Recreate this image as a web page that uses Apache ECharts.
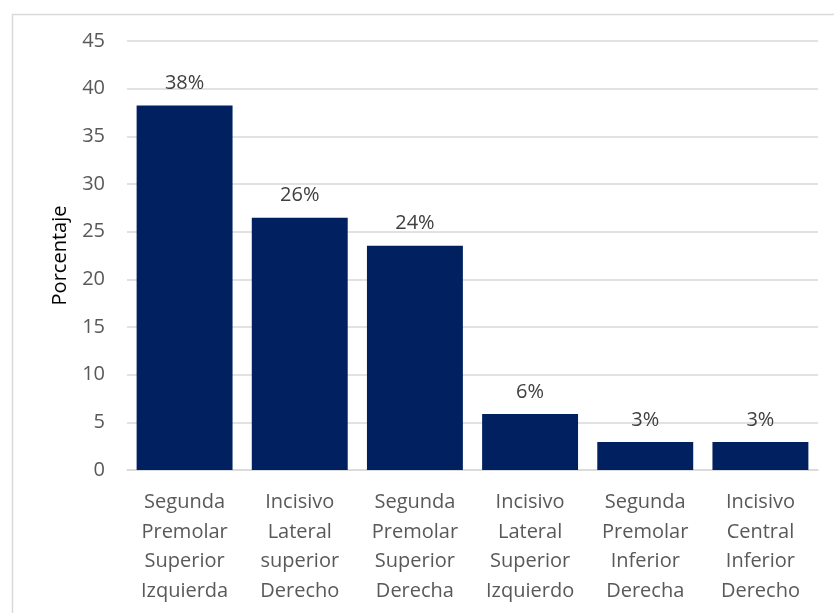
<!DOCTYPE html>
<html>
<head>
<meta charset="utf-8">
<script src="https://cdn.jsdelivr.net/npm/echarts@6/dist/echarts.min.js"></script>
<style>
  html, body { margin: 0; padding: 0; background: #ffffff; }
  #chart { width: 834px; height: 613px; }
</style>
</head>
<body>
<div id="chart"></div>
<script>
// Teeth categories (multi-line labels) and their share of cases, in percent
const categories = [
  'Segunda\nPremolar\nSuperior\nIzquierda',
  'Incisivo\nLateral\nsuperior\nDerecho',
  'Segunda\nPremolar\nSuperior\nDerecha',
  'Incisivo\nLateral\nSuperior\nIzquierdo',
  'Segunda\nPremolar\nInferior\nDerecha',
  'Incisivo\nCentral\nInferior\nDerecho'
];
const percentages = [38.24, 26.47, 23.53, 5.88, 2.94, 2.94];
const yTicks = { min: 0, max: 45, interval: 5 };
const yAxisTitle = 'Porcentaje';

const FONT = '"Open Sans", "Noto Sans", sans-serif';

const chart = echarts.init(document.getElementById('chart'), null, { renderer: 'canvas' });

chart.setOption({
  backgroundColor: '#ffffff',
  animation: false,
  textStyle: { fontFamily: FONT },
  graphic: [{
    type: 'rect',
    left: 10, top: 12,
    shape: { width: 900, height: 700 },
    style: { fill: 'none', stroke: '#d9d9d9', lineWidth: 1.5 },
    silent: true
  }],
  grid: { left: 127, right: 16, top: 41, bottom: 143, containLabel: false },
  xAxis: {
    type: 'category',
    data: categories,
    axisLine: { show: true, lineStyle: { color: '#d9d9d9', width: 1.5 } },
    axisTick: { show: false },
    axisLabel: {
      color: '#595959', fontSize: 20, lineHeight: 29.5, margin: 18,
      fontFamily: FONT, interval: 0
    }
  },
  yAxis: {
    type: 'value',
    min: yTicks.min, max: yTicks.max, interval: yTicks.interval,
    name: yAxisTitle,
    nameLocation: 'middle',
    nameGap: 57,
    nameTextStyle: { color: '#000000', fontSize: 20, fontFamily: FONT },
    axisLine: { show: false },
    axisTick: { show: false },
    axisLabel: { color: '#595959', fontSize: 20, margin: 22, fontFamily: FONT },
    splitLine: { lineStyle: { color: '#d9d9d9', width: 1.5 } }
  },
  series: [{
    type: 'bar',
    data: percentages,
    barCategoryGap: '16.7%',
    itemStyle: { color: '#002060' },
    label: {
      show: true,
      position: 'top',
      distance: 12,
      color: '#404040',
      fontSize: 20,
      fontFamily: FONT,
      formatter: p => Math.round(p.value) + '%'
    }
  }]
});
</script>
</body>
</html>
